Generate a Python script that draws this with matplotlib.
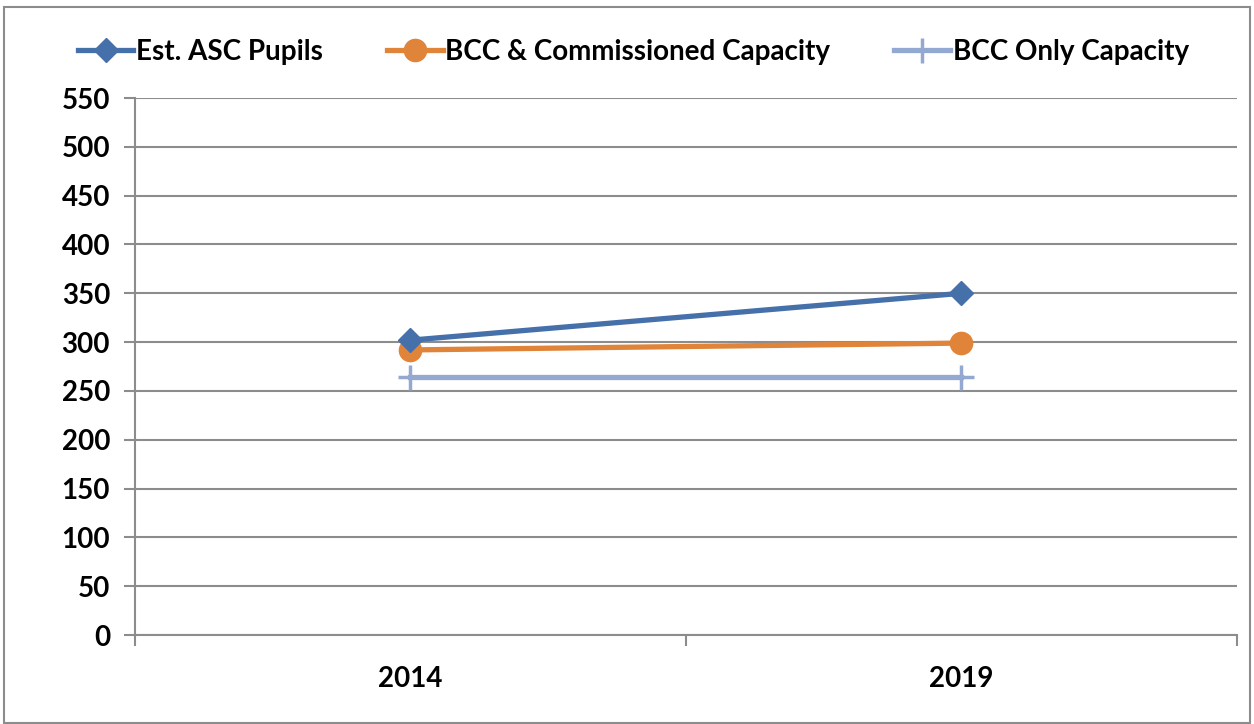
import matplotlib.pyplot as plt
from matplotlib.patches import Rectangle

years = ['2014', '2019']
asc_pupils = [302, 350]
bcc_commissioned = [292, 299]
bcc_only = [264, 264]

plt.rcParams['font.family'] = ['Lato', 'DejaVu Sans']
plt.rcParams['font.weight'] = 'bold'

fig = plt.figure(figsize=(12.54, 7.24), dpi=100)
ax = fig.add_axes([0.1077, 0.1229, 0.8786, 0.7417])

x = list(range(len(years)))
ax.plot(x, asc_pupils, color='#4670aa', lw=3.8, marker='D', ms=12,
        label='Est. ASC Pupils', zorder=4)
ax.plot(x, bcc_commissioned, color='#e0843a', lw=3.8, marker='o', ms=16,
        label='BCC & Commissioned Capacity', zorder=3)
ax.plot(x, bcc_only, color='#93a9d2', lw=3.8, marker='+', ms=18, mew=2.5,
        label='BCC Only Capacity', zorder=2)

ax.set_ylim(0, 550)
ax.set_yticks(range(0, 551, 50))
ax.set_xlim(-0.5, len(years) - 0.5)
ax.set_xticks(x)
ax.set_xticklabels(years)
ax.set_xticks([-0.5, 0.5, 1.5], minor=True)
ax.tick_params(axis='x', which='major', length=0, pad=22, labelsize=20)
ax.tick_params(axis='x', which='minor', length=8, width=1.5, color='#8c8c8c')
ax.tick_params(axis='y', length=8, width=1.5, color='#8c8c8c', labelsize=20, pad=10)

ax.grid(axis='y', color='#8c8c8c', lw=1.5)
ax.set_axisbelow(True)
for s in ['top', 'right']:
    ax.spines[s].set_visible(False)
for s in ['left', 'bottom']:
    ax.spines[s].set_color('#8c8c8c')
    ax.spines[s].set_linewidth(1.5)

fig.legend(loc='center', bbox_to_anchor=(0.505, 0.928), ncol=3, frameon=False,
           fontsize=20, handlelength=2.0, handletextpad=0.1, columnspacing=2.3)

fig.patches.append(Rectangle((0.003, 0.002), 0.994, 0.988, transform=fig.transFigure,
                             fill=False, edgecolor='#8c8c8c', lw=1.5))

fig.savefig('out.png', dpi=100)
